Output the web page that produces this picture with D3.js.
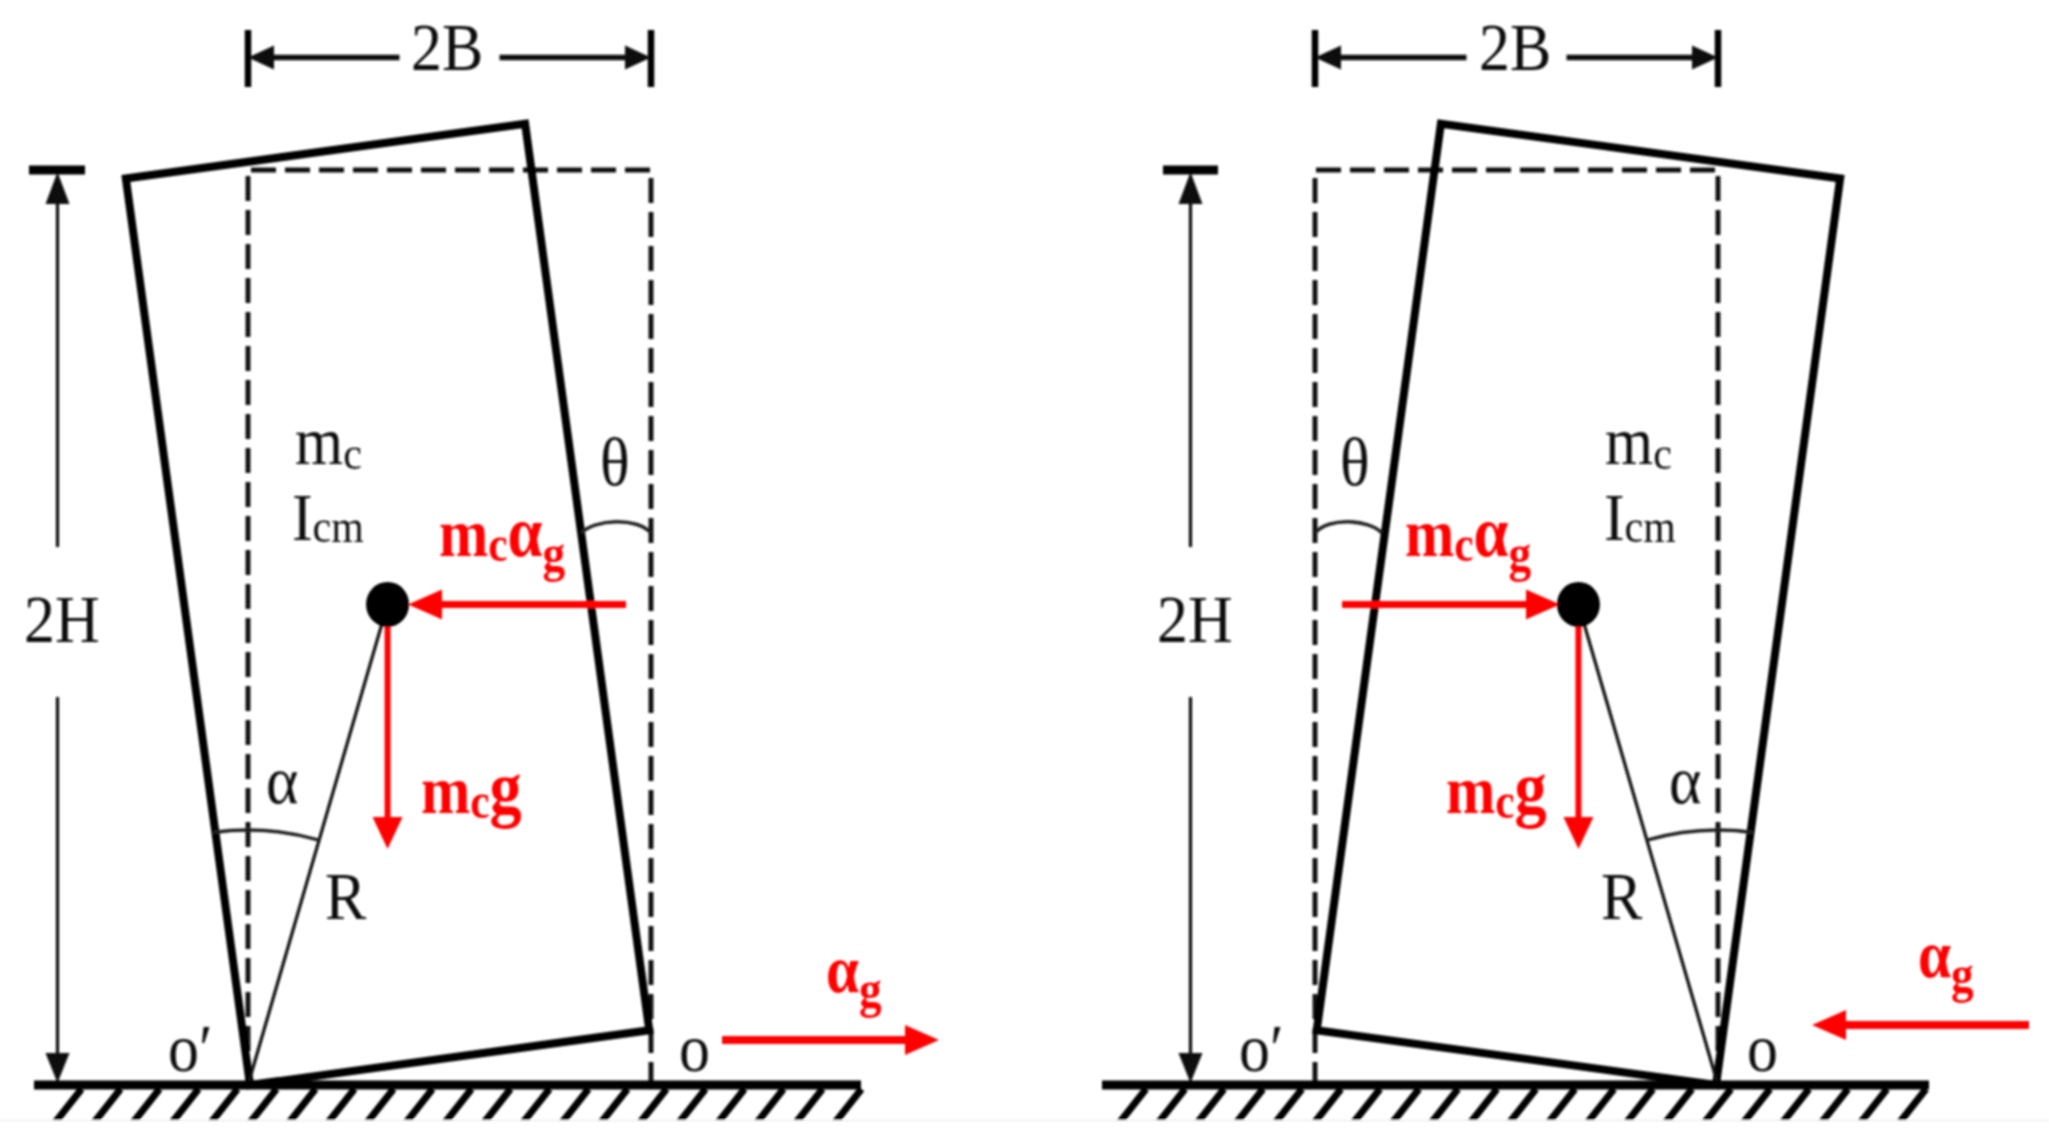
<!DOCTYPE html>
<html>
<head>
<meta charset="utf-8">
<script src="https://cdn.jsdelivr.net/npm/d3@7"></script>
<style>
  html, body { margin: 0; padding: 0; background: #fff; }
  svg { display: block; }
  text { font-family: "Liberation Serif", serif; }
</style>
</head>
<body>
<svg id="chart" width="2049" height="1147"></svg>
<script>
// model values, in units of B
const blockSize = [2, 4.54];
const tiltDeg = [7.8];

// labels
const widthLabel = ["2B"];
const heightLabel = ["2H"];
const massLabel = ["m", "c"];
const inertiaLabel = ["I", "cm"];
const angleLabels = ["θ", "α"];
const radiusLabel = ["R"];
const pivotLabels = ["o′", "o"];
const inertiaForce = ["m", "c", "α", "g"];
const weightForce = ["m", "c", "g"];
const groundAccel = ["α", "g"];

const RED = "#ff0000";
const svg = d3.select("#chart");
const root = svg.append("g").attr("filter", "url(#soft)");

svg.append("defs").append("filter").attr("id", "soft")
  .attr("filterUnits", "userSpaceOnUse")
  .attr("x", 0).attr("y", 0).attr("width", 2049).attr("height", 1147)
  .append("feGaussianBlur").attr("stdDeviation", 0.9);

const y = d3.scaleLinear().domain([0, blockSize[1]]).range([1085, 170]);

// mirrored right panel just swaps the x range
const panels = [
  {
    x: d3.scaleLinear().domain([0, blockSize[0]]).range([248, 651]),
    dimX: 57.5, capX: [29, 85], groundX: [34, 861], hatchStart: 55.5,
    widthText: 411, heightText: 24, massText: 295, inertiaText: 292,
    thetaText: 600, alphaText: 266, radiusText: 325,
    pivotOut: 168, pivotIn: 679,
    forceText: 439, weightText: 421,
    accel: [722, 939, 1040], accelText: [826, 992],
    forceArrow: [626, 408],
    thetaArc: [581, 533, 651]
  },
  {
    x: d3.scaleLinear().domain([0, blockSize[0]]).range([1718, 1315]),
    dimX: 1190.5, capX: [1163, 1218], groundX: [1102, 1929], hatchStart: 1120,
    widthText: 1479, heightText: 1157, massText: 1605, inertiaText: 1604,
    thetaText: 1340, alphaText: 1669, radiusText: 1601,
    pivotOut: 1239, pivotIn: 1747,
    forceText: 1405, weightText: 1446,
    accel: [2029, 1812, 1025], accelText: [1918, 977],
    forceArrow: [1342, 1560],
    thetaArc: [1382, 533, 1315]
  }
];

function arrow(g, x1, y1, x2, y2, color, width, headLen, headHalf) {
  const a = Math.atan2(y2 - y1, x2 - x1);
  const bx = x2 - headLen * Math.cos(a);
  const by = y2 - headLen * Math.sin(a);
  g.append("line")
    .attr("x1", x1).attr("y1", y1).attr("x2", bx).attr("y2", by)
    .attr("stroke", color).attr("stroke-width", width);
  const p = d3.path();
  p.moveTo(x2, y2);
  p.lineTo(bx - headHalf * Math.sin(a), by + headHalf * Math.cos(a));
  p.lineTo(bx + headHalf * Math.sin(a), by - headHalf * Math.cos(a));
  p.closePath();
  g.append("path").attr("d", p.toString()).attr("fill", color);
}

// parts: [string, font size, dy]
function label(g, x0, y0, parts, color, bold) {
  const t = g.append("text")
    .attr("transform", `translate(${x0},${y0}) scale(${bold ? 0.87 : 0.91},1)`)
    .attr("fill", color || "#111")
    .attr("font-weight", bold ? "bold" : "normal");
  parts.forEach(([s, size, dy]) => {
    t.append("tspan").attr("font-size", size).attr("dy", dy || 0).text(s);
  });
}

panels.forEach((pn) => {
  const g = root.append("g");
  const x = pn.x;
  const theta = tiltDeg[0] * Math.PI / 180;
  const [w, h] = blockSize;
  const x0 = x(0), x1 = x(w), base = y(0), top = y(h);
  const sign = Math.sign(x1 - x0);
  const tilt = ([u, v]) => [
    x(u * Math.cos(theta) - v * Math.sin(theta)) + 2 * sign,
    y(u * Math.sin(theta) + v * Math.cos(theta))
  ];

  // 2B dimension
  [x0, x1].forEach((tx) => {
    g.append("line").attr("x1", tx).attr("x2", tx).attr("y1", 30).attr("y2", 87)
      .attr("stroke", "#000").attr("stroke-width", 6.5);
  });
  const midX = (x0 + x1) / 2;
  arrow(g, midX - 50 * sign, 57.5, x0, 57.5, "#111", 5.5, 26, 12);
  arrow(g, midX + 50 * sign, 57.5, x1, 57.5, "#111", 5.5, 26, 12);
  label(g, pn.widthText, 70, [[widthLabel[0], 68]]);

  // 2H dimension
  g.append("line").attr("x1", pn.capX[0]).attr("x2", pn.capX[1]).attr("y1", top).attr("y2", top)
    .attr("stroke", "#000").attr("stroke-width", 9);
  arrow(g, pn.dimX, 547, pn.dimX, 172, "#111", 3.2, 32, 12);
  arrow(g, pn.dimX, 697, pn.dimX, base - 2, "#111", 3.2, 30, 12);
  label(g, pn.heightText, 642, [[heightLabel[0], 68]]);

  // at-rest outline
  g.append("path")
    .attr("d", d3.line()([[x0, base], [x0, top], [x1, top], [x1, base]]))
    .attr("fill", "none").attr("stroke", "#111")
    .attr("stroke-width", 4.8).attr("stroke-dasharray", "25 9");

  // tilted block
  const corners = [[0, 0], [w, 0], [w, h], [0, h]].map(tilt);
  g.append("path")
    .attr("d", d3.line()(corners) + "Z")
    .attr("fill", "none").attr("stroke", "#000").attr("stroke-width", 8);

  // radius line and angle arc
  const cm = tilt([w / 2, h / 2]);
  g.append("line").attr("x1", x0).attr("y1", base).attr("x2", cm[0]).attr("y2", cm[1])
    .attr("stroke", "#111").attr("stroke-width", 3.2);
  const rArc = 255;
  const cmAngle = Math.atan2(cm[0] - x0, base - cm[1]);
  const edgeAngle = -sign * theta;
  const arcPath = d3.path();
  arcPath.arc(x0, base, rArc,
    Math.min(cmAngle, edgeAngle) - Math.PI / 2,
    Math.max(cmAngle, edgeAngle) - Math.PI / 2);
  g.append("path").attr("d", arcPath.toString())
    .attr("fill", "none").attr("stroke", "#222").attr("stroke-width", 3.6);

  // theta arc
  const [ta, tb, tc] = pn.thetaArc;
  const thetaPath = d3.path();
  thetaPath.moveTo(ta, tb);
  thetaPath.bezierCurveTo(ta + (tc - ta) * 0.2, tb - 14, ta + (tc - ta) * 0.8, tb - 16, tc, tb);
  g.append("path").attr("d", thetaPath.toString())
    .attr("fill", "none").attr("stroke", "#222").attr("stroke-width", 3.6);

  // red forces
  arrow(g, pn.forceArrow[0], cm[1], pn.forceArrow[1], cm[1], RED, 7, 34, 15);
  arrow(g, cm[0], cm[1], cm[0], 849, RED, 6, 32, 15);
  arrow(g, pn.accel[0], pn.accel[2], pn.accel[1], pn.accel[2], RED, 8, 34, 15);

  g.append("ellipse").attr("cx", cm[0]).attr("cy", cm[1]).attr("rx", 21.5).attr("ry", 22.5).attr("fill", "#000");

  // ground and hatching
  g.append("line").attr("x1", pn.groundX[0]).attr("x2", pn.groundX[1]).attr("y1", base).attr("y2", base)
    .attr("stroke", "#000").attr("stroke-width", 9);
  g.selectAll("line.hatch").data(d3.range(21)).join("line").attr("class", "hatch")
    .attr("x1", (i) => pn.hatchStart + i * 39)
    .attr("y1", 1122)
    .attr("x2", (i) => pn.hatchStart + i * 39 + 26)
    .attr("y2", 1089)
    .attr("stroke", "#000").attr("stroke-width", 7);

  // black labels
  label(g, pn.massText, 464, [[massLabel[0], 68], [massLabel[1], 46, 5]]);
  label(g, pn.inertiaText, 540, [[inertiaLabel[0], 68], [inertiaLabel[1], 46, 2]]);
  label(g, pn.thetaText, 485, [[angleLabels[0], 68]]);
  label(g, pn.alphaText, 803, [[angleLabels[1], 68]]);
  label(g, pn.radiusText, 919, [[radiusLabel[0], 68]]);
  label(g, pn.pivotOut, 1071, [[pivotLabels[0], 68]]);
  label(g, pn.pivotIn, 1071, [[pivotLabels[1], 68]]);

  // red labels
  label(g, pn.forceText, 556, [
    [inertiaForce[0], 68], [inertiaForce[1], 50, 5],
    [inertiaForce[2], 72, -5], [inertiaForce[3], 52, 15]
  ], RED, true);
  label(g, pn.weightText, 813, [
    [weightForce[0], 68], [weightForce[1], 50, 5], [weightForce[2], 74, -5]
  ], RED, true);
  label(g, pn.accelText[0], pn.accelText[1], [
    [groundAccel[0], 68], [groundAccel[1], 52, 15]
  ], RED, true);
});

// the picture stops here; only a faint edge remains below the hatching
root.append("rect").attr("x", 0).attr("y", 1120).attr("width", 2049).attr("height", 27).attr("fill", "#fff");
root.append("line").attr("x1", 0).attr("x2", 2049).attr("y1", 1120.5).attr("y2", 1120.5)
  .attr("stroke", "#e6e6e6").attr("stroke-width", 1);
</script>
</body>
</html>
